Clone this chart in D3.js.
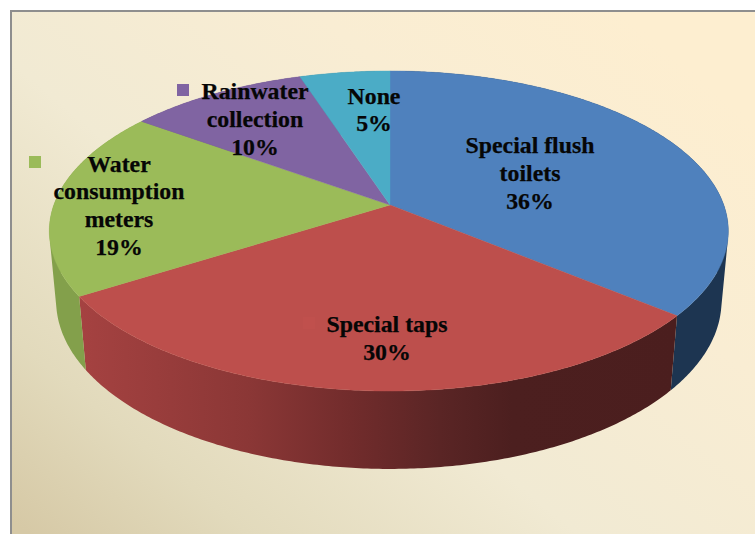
<!DOCTYPE html>
<html>
<head>
<meta charset="utf-8">
<script src="https://cdn.jsdelivr.net/npm/d3@7/dist/d3.min.js"></script>
<style>
html,body{margin:0;padding:0;background:#fff;overflow:hidden}
svg{display:block}
text{font-family:"Liberation Serif","Times New Roman",serif;font-weight:bold;font-size:23.8px;fill:#060606;stroke:#060606;stroke-width:0.25px;text-anchor:middle}
</style>
</head>
<body>
<svg id="chart" width="755" height="534"></svg>
<script>
// Data
const categories = ["Special flush toilets", "Special taps", "Water consumption meters", "Rainwater collection", "None"];
const values = [36, 30, 19, 10, 5];
const labelLines = [["Special flush", "toilets"], ["Special taps"], ["Water", "consumption", "meters"], ["Rainwater", "collection"], ["None"]];

// Style and layout
const topColors = ["#4f81bd", "#bd4f4c", "#9bbb59", "#8064a2", "#4bacc6"];
const sideColors = ["#1d3551", "url(#redSide)", "#83a04b", "#5f4a7a", "#38808f"];
const keyColors = ["#4f81bd", "#c0504d", "#9bbb59", "#8064a2", "#4bacc6"];
const labelCentres = [[530, 153.3], [387, 332.3], [119, 171.7], [255, 99.3], [374, 103.7]];
const keyCorners = [[455, 140], [303, 317], [29, 156], [177, 84], [324, 88]];
const lineHeight = 27.6;

const W = 755, H = 534;
const svg = d3.select("#chart");
const defs = svg.append("defs");

const bg = defs.append("linearGradient").attr("id", "bg")
  .attr("gradientUnits", "userSpaceOnUse")
  .attr("x1", 60).attr("y1", 560).attr("x2", 560).attr("y2", -40);
[[0, "#d6c9a6"], [0.18, "#e2dabc"], [0.45, "#f1ead3"], [0.75, "#f9edd3"], [1, "#fdeed0"]]
  .forEach(s => bg.append("stop").attr("offset", s[0]).attr("stop-color", s[1]));

const red = defs.append("linearGradient").attr("id", "redSide")
  .attr("gradientUnits", "userSpaceOnUse")
  .attr("x1", 80).attr("y1", 0).attr("x2", 680).attr("y2", 0);
[[0, "#a54241"], [0.28, "#8b3736"], [0.45, "#722c2c"], [0.6, "#5a2525"], [0.72, "#4c1f1f"], [1, "#4b1e1e"]]
  .forEach(s => red.append("stop").attr("offset", s[0]).attr("stop-color", s[1]));

// Frame
svg.append("rect").attr("x", 11).attr("y", 11).attr("width", W).attr("height", H)
  .attr("fill", "url(#bg)").attr("stroke", "#8e8e8e").attr("stroke-width", 2);

// Perspective projection of the pie disc: z = 0 top face, z = 1 bottom face
const apex = [390, 205];
const P = {a: 335, b: 122.5, k: 0.1625, m: 0.02, d: 74.6, lean: 1.2};
function project(theta, z) {
  const u = Math.sin(theta), v = -Math.cos(theta);
  const w = 1 - P.k * v + P.m * z;
  return [apex[0] + P.a * u / w - P.lean * Math.abs(u), (apex[1] + P.b * v + P.d * z) / w];
}

const arcs = d3.pie().sort(null).startAngle(0).endAngle(2 * Math.PI)(values);
const line = d3.line();
const samples = a => {
  const n = Math.max(2, Math.ceil((a.endAngle - a.startAngle) / 0.01));
  return d3.range(n + 1).map(i => a.startAngle + (a.endAngle - a.startAngle) * i / n);
};

// Side walls: one consistently wound quad per rim step, so the silhouette stays solid
function wallPath(a) {
  const t = samples(a);
  return d3.range(t.length - 1).map(i => {
    const q = [project(t[i], 0), project(t[i + 1], 0), project(t[i + 1], 1), project(t[i], 1)];
    if (d3.polygonArea(q) < 0) q.reverse();
    return line(q) + "Z";
  }).join("");
}
svg.append("g").selectAll("path").data(arcs).join("path")
  .attr("d", wallPath)
  .attr("fill", (a, i) => sideColors[i]);

// Top faces
svg.append("g").selectAll("path").data(arcs).join("path")
  .attr("d", a => line([apex].concat(samples(a).map(x => project(x, 0)))) + "Z")
  .attr("fill", (a, i) => topColors[i])
  .attr("stroke", (a, i) => topColors[i])
  .attr("stroke-width", 0.4);

// Legend keys
svg.append("g").selectAll("rect").data(categories).join("rect")
  .attr("x", (c, i) => keyCorners[i][0]).attr("y", (c, i) => keyCorners[i][1])
  .attr("width", 12).attr("height", 12)
  .attr("fill", (c, i) => keyColors[i]);

// Labels
const labels = svg.append("g").selectAll("text").data(categories).join("text")
  .attr("x", (c, i) => labelCentres[i][0])
  .attr("y", (c, i) => labelCentres[i][1]);
labels.each(function (c, i) {
  const el = d3.select(this);
  labelLines[i].concat([values[i] + "%"]).forEach((s, j) => {
    el.append("tspan").attr("x", labelCentres[i][0])
      .attr("y", labelCentres[i][1] + j * lineHeight).text(s);
  });
});
</script>
</body>
</html>
